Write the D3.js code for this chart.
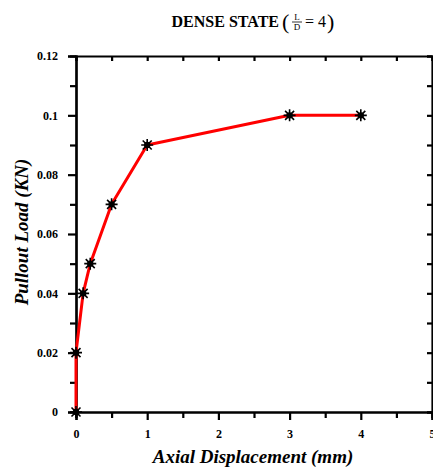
<!DOCTYPE html>
<html>
<head>
<meta charset="utf-8">
<script src="https://cdn.jsdelivr.net/npm/d3@7"></script>
<style>
  body { margin: 0; background: #fff; }
  svg text { font-family: "Liberation Serif", "Times New Roman", serif; }
</style>
</head>
<body>
<svg id="chart" width="433" height="469"></svg>
<script>
// data
const displacement = [0, 0, 0.1, 0.2, 0.5, 1, 3, 4];
const load = [0, 0.02, 0.04, 0.05, 0.07, 0.09, 0.1, 0.1];
const xTicks = [0, 1, 2, 3, 4, 5];
const yTicks = [0, 0.02, 0.04, 0.06, 0.08, 0.1, 0.12];
const yTickLabels = ["0", "0.02", "0.04", "0.06", "0.08", "0.1", "0.12"];

const svg = d3.select("#chart");
const mLeft = 76, mRight = 432, mTop = 56, mBottom = 412;

const x = d3.scaleLinear().domain([0, 5]).range([mLeft, mRight]);
const y = d3.scaleLinear().domain([0, 0.12]).range([mBottom, mTop]);

// minor ticks halfway between majors
const xMinor = d3.range(0.5, 5, 1);
const yMinor = d3.range(0.01, 0.12, 0.02);

// bottom axis
const gx = svg.append("g").attr("transform", `translate(0,${mBottom})`);
gx.call(d3.axisBottom(x).tickValues(xTicks).tickFormat(d3.format("d")).tickSize(8).tickPadding(9));
gx.append("g").call(d3.axisBottom(x).tickValues(xMinor).tickFormat("").tickSize(6));

// left axis
const gy = svg.append("g").attr("transform", `translate(${mLeft},0)`);
gy.call(d3.axisLeft(y).tickValues(yTicks).tickFormat((d, i) => yTickLabels[i]).tickSize(8).tickPadding(10));
gy.append("g").call(d3.axisLeft(y).tickValues(yMinor).tickFormat("").tickSize(6));

// top and right, ticks inward
const gt = svg.append("g").attr("transform", `translate(0,${mTop})`);
gt.call(d3.axisBottom(x).tickValues(xTicks.concat(xMinor)).tickFormat("").tickSize(5));
const gr = svg.append("g").attr("transform", `translate(${mRight},0)`);
gr.call(d3.axisLeft(y).tickValues(yTicks.concat(yMinor)).tickFormat("").tickSize(5));

svg.selectAll(".domain").attr("stroke", "#000").attr("stroke-width", 2.2);
svg.selectAll(".tick line").attr("stroke", "#000").attr("stroke-width", 2.2);
svg.selectAll(".tick text")
  .attr("font-family", "Liberation Serif, serif")
  .attr("font-weight", "bold")
  .attr("font-size", 12)
  .attr("fill", "#000");

// line
const pts = displacement.map((d, i) => [d, load[i]]);
svg.append("path")
  .datum(pts)
  .attr("fill", "none")
  .attr("stroke", "#ff0000")
  .attr("stroke-width", 3)
  .attr("stroke-linejoin", "round")
  .attr("d", d3.line().x(d => x(d[0])).y(d => y(d[1])));

// star markers (8 spikes, solid centre)
const mk = svg.append("g");
pts.forEach(p => {
  const g = mk.append("g").attr("transform", `translate(${x(p[0])},${y(p[1])})`);
  g.append("path").attr("d", "M-6,0H6M0,-6V6M-4.5,-4.5L4.5,4.5M-4.5,4.5L4.5,-4.5")
    .attr("stroke", "#000").attr("stroke-width", 1.6);
  g.append("circle").attr("r", 3.2).attr("fill", "#000");
});

// axis titles
svg.append("text")
  .attr("x", 253).attr("y", 463)
  .attr("text-anchor", "middle")
  .attr("font-weight", "bold").attr("font-style", "italic").attr("font-size", 19)
  .text("Axial Displacement (mm)");
svg.append("text")
  .attr("transform", "translate(28,232) rotate(-90)")
  .attr("text-anchor", "middle")
  .attr("font-weight", "bold").attr("font-style", "italic").attr("font-size", 19)
  .text("Pullout Load (KN)");

// chart title with fraction
const tg = svg.append("g");
tg.append("text").attr("x", 279).attr("y", 27).attr("text-anchor", "end")
  .attr("font-weight", "bold").attr("font-size", 16).text("DENSE STATE");
tg.append("text").attr("x", 282).attr("y", 29)
  .attr("font-size", 22).text("(");
tg.append("text").attr("x", 297).attr("y", 20).attr("text-anchor", "middle")
  .attr("font-size", 9).text("L");
tg.append("line").attr("x1", 292).attr("x2", 302).attr("y1", 22).attr("y2", 22)
  .attr("stroke", "#000").attr("stroke-width", 0.8);
tg.append("text").attr("x", 297).attr("y", 30).attr("text-anchor", "middle")
  .attr("font-size", 9).text("D");
tg.append("text").attr("x", 305).attr("y", 27)
  .attr("font-size", 16).text("= 4");
tg.append("text").attr("x", 327).attr("y", 29)
  .attr("font-size", 22).text(")");
</script>
</body>
</html>
